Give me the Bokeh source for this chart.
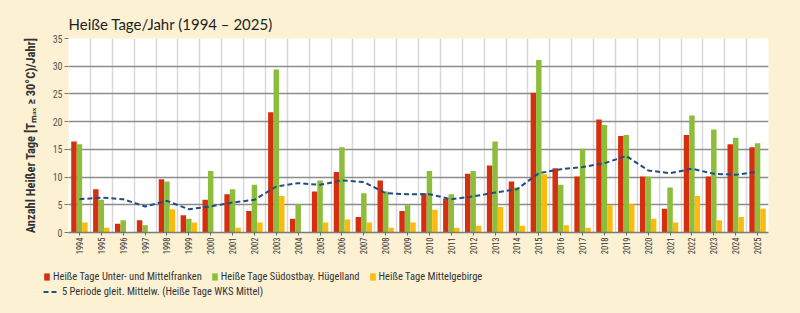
import numpy as np
from bokeh.plotting import figure
from bokeh.layouts import column, row
from bokeh.models import ColumnDataSource, Range1d, FixedTicker, Legend, LegendItem
from bokeh.transform import dodge
from bokeh.embed import file_html
from bokeh.resources import INLINE

years = list(range(1994, 2026))
franken = [16.4, 7.8, 1.6, 2.2, 9.6, 3.1, 5.9, 6.9, 3.9, 21.7, 2.5, 7.4, 10.9, 2.8, 9.4, 3.9,
           7.1, 6.1, 10.6, 12.1, 9.2, 25.2, 11.6, 10.1, 20.4, 17.4, 10.1, 4.3, 17.6, 10.1, 15.9, 15.4]
huegelland = [15.9, 5.9, 2.2, 1.3, 9.2, 2.5, 11.1, 7.8, 8.6, 29.4, 5.1, 9.4, 15.4, 7.1, 7.4, 4.9,
              11.1, 6.9, 11.1, 16.4, 8.1, 31.1, 8.6, 15.1, 19.4, 17.6, 10.1, 8.1, 21.1, 18.6, 17.1, 16.1]
mittelgebirge = [1.8, 0.85, 0, 0, 4.2, 1.8, 0, 0.85, 1.8, 6.6, 0, 1.8, 2.35, 1.8, 0.85, 1.8,
                 4.1, 0.85, 1.2, 4.6, 1.2, 10.5, 1.3, 0.85, 4.9, 5.1, 2.5, 1.8, 6.6, 2.2, 2.8, 4.3]
gleit_mittel = [6.0, 6.3, 6.0, 4.7, 5.7, 4.2, 4.7, 5.4, 5.9, 8.3, 8.9, 8.6, 9.4, 9.1, 7.1, 6.9,
                6.9, 6.0, 6.5, 7.2, 7.8, 10.7, 11.4, 11.8, 12.5, 13.8, 11.2, 10.7, 11.5, 10.6, 10.4, 11.0]
y_ticks = [0, 5, 10, 15, 20, 25, 30, 35]

labels = ["Heiße Tage Unter- und Mittelfranken", "Heiße Tage Südostbay. Hügelland",
          "Heiße Tage Mittelgebirge", "5 Periode gleit. Mittelw. (Heiße Tage WKS Mittel)"]
colors = ["#D4300F", "#8CBE3C", "#FBBA0E", "#1F4D86"]

src = ColumnDataSource(dict(year=years, franken=franken, huegelland=huegelland,
                            mittelgebirge=mittelgebirge, mittel=gleit_mittel))

BG = "#FDF1D3"
FONT = "Roboto Condensed"

p = figure(width=800, height=262, output_backend="svg", toolbar_location=None,
           x_range=Range1d(years[0] - 0.5, years[-1] + 0.5), y_range=Range1d(0, 35),
           min_border_left=68, min_border_right=32, min_border_top=38, min_border_bottom=30)
p.background_fill_color = "white"
p.border_fill_color = BG
p.outline_line_color = None

p.title.text = "Heiße Tage/Jahr (1994 – 2025)"
p.title.text_font = "Lato"
p.title.text_font_size = "15px"
p.title.text_font_style = "normal"
p.title.text_color = "#1E1E1E"
p.title.align = "left"
p.title.standoff = 12

r1 = p.vbar(x=dodge("year", -0.25), top="franken", width=0.25, source=src,
            fill_color=colors[0], line_color=None)
r2 = p.vbar(x=dodge("year", 0.0), top="huegelland", width=0.25, source=src,
            fill_color=colors[1], line_color=None)
r3 = p.vbar(x=dodge("year", 0.25), top="mittelgebirge", width=0.25, source=src,
            fill_color=colors[2], line_color=None)
r4 = p.line(x="year", y="mittel", source=src, line_color=colors[3], line_width=2,
            line_dash="5 3")

# grids
p.ygrid.ticker = FixedTicker(ticks=y_ticks)
p.ygrid.grid_line_color = "#8C8C8C"
p.ygrid.grid_line_width = 1.5
p.xgrid.ticker = FixedTicker(ticks=[y + 0.5 for y in years[:-1]])
p.xgrid.grid_line_color = "#D8D8D8"
p.xgrid.grid_line_width = 1.5

# axes
p.xaxis.ticker = FixedTicker(ticks=years)
p.xaxis.major_label_orientation = np.pi / 2
p.xaxis.major_label_text_font = FONT
p.xaxis.major_label_text_font_size = "8.5px"
p.xaxis.major_label_text_color = "#333333"
p.xaxis.major_tick_out = 3
p.xaxis.major_tick_in = 0
p.xaxis.minor_tick_line_color = None
p.xaxis.major_tick_line_color = "#666666"
p.xaxis.axis_line_color = "#7A7A7A"
p.xaxis.axis_line_width = 1.5
p.xaxis.major_label_standoff = 2

p.yaxis.ticker = FixedTicker(ticks=y_ticks)
p.yaxis.major_label_text_font = FONT
p.yaxis.major_label_text_font_size = "10px"
p.yaxis.major_label_text_color = "#555555"
p.yaxis.major_tick_out = 4
p.yaxis.major_tick_in = 0
p.yaxis.major_tick_line_color = "#777777"
p.yaxis.minor_tick_line_color = None
p.yaxis.axis_line_color = None
p.yaxis.major_label_standoff = 2
p.yaxis.axis_label = "Anzahl Heißer Tage [Tₘₐₓ ≥ 30°C)/Jahr]"
p.yaxis.axis_label_text_font = FONT
p.yaxis.axis_label_text_font_size = "12.5px"
p.yaxis.axis_label_text_font_style = "bold"
p.yaxis.axis_label_text_color = "#333333"
p.yaxis.axis_label_standoff = 12

# legend strip below the chart
leg = figure(width=800, height=51, output_backend="svg", toolbar_location=None,
             x_axis_type=None, y_axis_type=None, min_border=0,
             min_border_left=0, min_border_right=0, min_border_top=0, min_border_bottom=0,
             x_range=Range1d(0, 1), y_range=Range1d(0, 1))
leg.outline_line_color = None
leg.background_fill_color = BG
leg.border_fill_color = BG
leg.grid.visible = False
# legend-only renderers, their single point lies outside the visible range
d1 = leg.vbar(x=[5], top=[0], width=0.25, fill_color=colors[0], line_color=None)
d2 = leg.vbar(x=[5], top=[0], width=0.25, fill_color=colors[1], line_color=None)
d3 = leg.vbar(x=[5], top=[0], width=0.25, fill_color=colors[2], line_color=None)
d4 = leg.line(x=[5, 6], y=[0, 0], line_color=colors[3], line_width=2, line_dash="5 3")


def make_legend(items, x, y):
    lg = Legend(items=items, location=(x, y), orientation="horizontal")
    lg.background_fill_alpha = 0
    lg.border_line_color = None
    lg.padding = 0
    lg.margin = 0
    lg.spacing = 9
    lg.label_standoff = 3
    lg.label_text_font = FONT
    lg.label_text_font_size = "10.5px"
    lg.label_text_color = "#333333"
    lg.label_height = 10
    lg.glyph_height = 9
    lg.glyph_width = 7
    return lg


lg1 = make_legend([LegendItem(label=labels[0], renderers=[d1]),
                   LegendItem(label=labels[1], renderers=[d2]),
                   LegendItem(label=labels[2], renderers=[d3])], 43, 30)
lg2 = make_legend([LegendItem(label=labels[3], renderers=[d4])], 43, 15)
lg2.glyph_width = 16
leg.add_layout(lg1)
leg.add_layout(lg2)

layout = column(p, row(leg, spacing=0), spacing=0, styles={"background-color": BG})
open("out.html", "w").write(file_html(layout, INLINE))
